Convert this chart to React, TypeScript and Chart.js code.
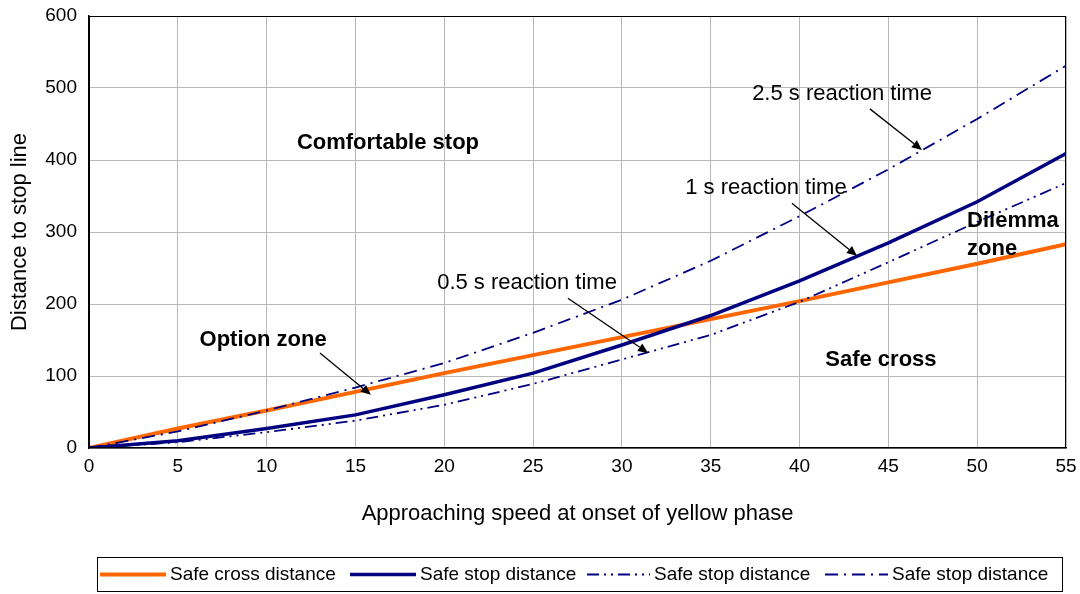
import { useEffect, useRef } from 'react';
import { Chart, registerables } from 'chart.js';

Chart.register(...registerables);

// ---- data ----
const speeds = [0, 5, 10, 15, 20, 25, 30, 35, 40, 45, 50, 55];
const safeCross = [0, 27, 52, 78, 104, 129, 154, 179, 204, 230, 256, 283];
const safeStop1s = [0, 10, 27, 46, 74, 104, 143, 184, 232, 285, 342, 409];
const safeStop05s = [0, 8, 22, 38, 60, 89, 123, 157, 203, 258, 314, 368];
const safeStop25s = [0, 23, 52, 84, 118, 160, 206, 260, 322, 387, 457, 531];
const seriesLabels = ['Safe cross distance', 'Safe stop distance', 'Safe stop distance', 'Safe stop distance'];
const xTitle = 'Approaching speed at onset of yellow phase';
const yTitle = 'Distance to stop line';

// annotations in data coordinates
const noteTexts = ['Comfortable stop', 'Option zone', 'Safe cross', 'Dilemma', 'zone', '2.5 s reaction time', '1 s reaction time', '0.5 s reaction time'];
const noteX = [16.83, 9.8, 44.58, 49.43, 49.43, 42.39, 38.11, 24.66];
const noteY = [424, 150, 122, 316, 276, 492, 361, 229];
const noteBold = [true, true, true, true, true, false, false, false];
const noteAlign: CanvasTextAlign[] = ['center', 'center', 'center', 'left', 'left', 'center', 'center', 'center'];
// arrows: [x1, y1, x2, y2] in data coordinates
const arrowList = [
  [43.96, 471, 46.89, 414],
  [39.57, 340, 43.23, 267],
  [26.96, 208, 31.47, 132],
  [13.0, 132, 15.87, 74],
];

const FONT = "'Liberation Sans', Arial, Helvetica, sans-serif";
const NAVY = '#000080';
const ORANGE = '#FF6600';

const zeroPad = (s: any) => {
  s.paddingTop = 0;
  s.paddingBottom = 0;
  s.paddingLeft = 0;
  s.paddingRight = 0;
};

const annotationPlugin = {
  id: 'notes',
  afterDatasetsDraw(chart: any) {
    const { ctx, scales } = chart;
    const xs = scales.x;
    const ys = scales.y;
    ctx.save();
    // plot border
    const a = chart.chartArea;
    ctx.strokeStyle = '#000';
    ctx.lineWidth = 1;
    ctx.strokeRect(a.left + 0.5, a.top + 0.5, a.right - a.left - 1, a.bottom - a.top - 1);
    ctx.fillStyle = '#000';
    ctx.textBaseline = 'middle';
    noteTexts.forEach((t, i) => {
      ctx.font = `${noteBold[i] ? 'bold ' : ''}22px ${FONT}`;
      ctx.textAlign = noteAlign[i];
      ctx.fillText(t, xs.getPixelForValue(noteX[i]), ys.getPixelForValue(noteY[i]));
    });
    ctx.strokeStyle = '#000';
    ctx.lineWidth = 1.3;
    arrowList.forEach(([x1, y1, x2, y2]) => {
      const p1x = xs.getPixelForValue(x1), p1y = ys.getPixelForValue(y1);
      const p2x = xs.getPixelForValue(x2), p2y = ys.getPixelForValue(y2);
      const ang = Math.atan2(p2y - p1y, p2x - p1x);
      const L = 10, W = 4.5;
      const bx = p2x - L * Math.cos(ang), by = p2y - L * Math.sin(ang);
      ctx.beginPath();
      ctx.moveTo(p1x, p1y);
      ctx.lineTo(bx, by);
      ctx.stroke();
      ctx.beginPath();
      ctx.moveTo(p2x, p2y);
      ctx.lineTo(bx + W * Math.sin(ang), by - W * Math.cos(ang));
      ctx.lineTo(bx - W * Math.sin(ang), by + W * Math.cos(ang));
      ctx.closePath();
      ctx.fill();
    });
    ctx.restore();
  },
  afterDraw(chart: any) {
    const { ctx } = chart;
    ctx.save();
    // legend box
    const bx = 97, by = 557, bw = 965, bh = 34;
    ctx.strokeStyle = '#000';
    ctx.lineWidth = 1;
    ctx.strokeRect(bx + 0.5, by + 0.5, bw, bh);
    const starts = [100, 350, 587, 825];
    const sampleW = [66, 66, 63, 63];
    const cy = by + bh / 2 + 0.5;
    ctx.font = `19px ${FONT}`;
    ctx.textAlign = 'left';
    ctx.textBaseline = 'middle';
    chart.data.datasets.forEach((ds: any, i: number) => {
      ctx.strokeStyle = ds.borderColor;
      ctx.lineWidth = ds.borderWidth;
      ctx.setLineDash(ds.borderDash || []);
      ctx.beginPath();
      ctx.moveTo(starts[i], cy);
      ctx.lineTo(starts[i] + sampleW[i], cy);
      ctx.stroke();
      ctx.setLineDash([]);
      ctx.fillStyle = '#000';
      ctx.fillText(ds.label, starts[i] + sampleW[i] + 4, cy);
    });
    ctx.restore();
  },
};

export default function App() {
  const ref = useRef<HTMLCanvasElement | null>(null);
  useEffect(() => {
    document.body.style.margin = '0';
    if (!ref.current) return;
    const chart = new Chart(ref.current, {
      type: 'line',
      data: {
        labels: speeds,
        datasets: [
          {
            label: seriesLabels[0],
            data: speeds.map((s, i) => ({ x: s, y: safeCross[i] })),
            borderColor: ORANGE,
            borderWidth: 4,
            pointRadius: 0,
            tension: 0,
            order: 4,
          },
          {
            label: seriesLabels[1],
            data: speeds.map((s, i) => ({ x: s, y: safeStop1s[i] })),
            borderColor: NAVY,
            borderWidth: 3.5,
            pointRadius: 0,
            tension: 0,
            order: 3,
          },
          {
            label: seriesLabels[2],
            data: speeds.map((s, i) => ({ x: s, y: safeStop05s[i] })),
            borderColor: NAVY,
            borderWidth: 1.8,
            borderDash: [12, 5, 2, 5, 2, 5],
            pointRadius: 0,
            tension: 0,
            order: 2,
          },
          {
            label: seriesLabels[3],
            data: speeds.map((s, i) => ({ x: s, y: safeStop25s[i] })),
            borderColor: NAVY,
            borderWidth: 1.8,
            borderDash: [13, 6, 2, 6],
            pointRadius: 0,
            tension: 0,
            order: 1,
          },
        ],
      },
      options: {
        animation: false,
        responsive: false,
        maintainAspectRatio: false,
        layout: { autoPadding: false, padding: { left: 0, right: 14, top: 16, bottom: 0 } },
        plugins: {
          legend: { display: false },
          tooltip: { enabled: false },
        },
        scales: {
          x: {
            type: 'linear',
            min: 0,
            max: 55,
            afterFit: (s: any) => { s.height = 146; zeroPad(s); },
            ticks: { stepSize: 5, padding: 7, color: '#000', font: { family: FONT, size: 19 }, maxRotation: 0 },
            grid: { color: '#b8b8b8', lineWidth: 1, drawTicks: false },
            border: { color: '#000', width: 1.5 },
            title: {
              display: true,
              text: xTitle,
              color: '#000',
              font: { family: FONT, size: 22 },
              padding: { top: 0, bottom: 67 },
            },
          },
          y: {
            min: 0,
            max: 600,
            afterFit: (s: any) => { s.width = 89; zeroPad(s); },
            ticks: { stepSize: 100, padding: 12, color: '#000', font: { family: FONT, size: 19 } },
            grid: { color: '#b8b8b8', lineWidth: 1, drawTicks: false },
            border: { color: '#000', width: 1.5 },
            title: {
              display: true,
              text: yTitle,
              color: '#000',
              font: { family: FONT, size: 22 },
              padding: { top: 7, bottom: 0 },
            },
          },
        },
      },
      plugins: [annotationPlugin],
    });
    return () => chart.destroy();
  }, []);
  return (
    <div style={{ width: 1080, height: 594, background: '#fff' }}>
      <canvas ref={ref} width={1080} height={594} style={{ display: 'block' }} />
    </div>
  );
}
